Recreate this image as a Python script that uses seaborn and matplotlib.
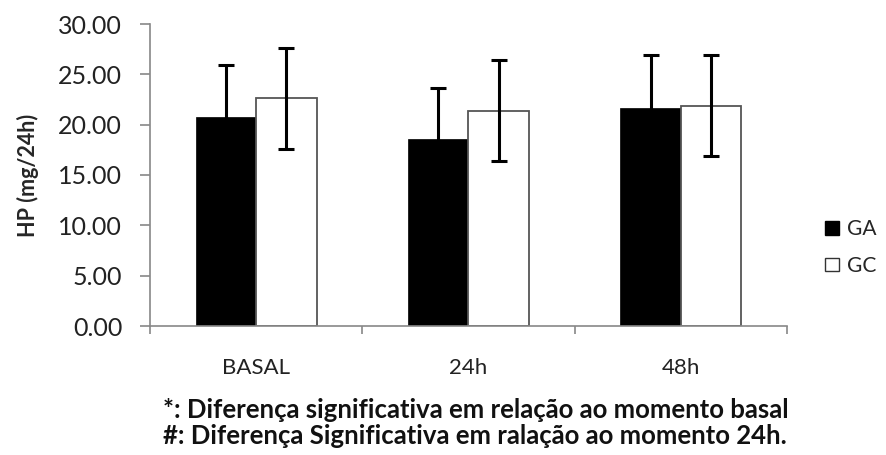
import matplotlib
matplotlib.use("Agg")
import matplotlib.pyplot as plt
import seaborn as sns
import pandas as pd
import numpy as np
from matplotlib.patches import Patch
from matplotlib.ticker import FixedLocator, FormatStrFormatter

categories = ["BASAL", "24h", "48h"]
groups = ["GA", "GC"]
ga_mean = [20.8, 18.6, 21.7]
ga_sd = [5.1, 5.0, 5.2]
gc_mean = [22.6, 21.4, 21.9]
gc_sd = [5.0, 5.0, 5.0]
y_label = "HP (mg/24h)"
footnote1 = "*: Diferença significativa em relação ao momento basal"
footnote2 = "#: Diferença Significativa em ralação ao momento 24h."

df = pd.DataFrame({
    "cat": categories * 2,
    "grp": ["GA"] * 3 + ["GC"] * 3,
    "val": ga_mean + gc_mean,
    "sd": ga_sd + gc_sd,
})

sns.set_style("white")
plt.rcParams["font.family"] = ["Lato", "DejaVu Sans"]

fig = plt.figure(figsize=(8.86, 4.55), dpi=100)
ax = fig.add_axes([150 / 886, 1 - 326 / 455, 637 / 886, 302 / 455])

palette = {"GA": "black", "GC": "white"}
sns.barplot(data=df, x="cat", y="val", hue="grp", order=categories,
            hue_order=groups, palette=palette, width=0.57, gap=0,
            errorbar=None, legend=False, ax=ax, saturation=1)

for i, p in enumerate(ax.patches[:6]):
    if i >= 3:
        p.set_edgecolor("#555555")
        p.set_linewidth(1.3)
    else:
        p.set_edgecolor("black")
        p.set_linewidth(0.5)

# error bars
for p, (_, row) in zip(ax.patches[:6], df.iterrows()):
    xc = p.get_x() + p.get_width() / 2
    ax.errorbar(xc, row["val"], yerr=row["sd"], fmt="none", ecolor="black",
                elinewidth=2.2, capsize=5.5, capthick=2.2, zorder=5)

ax.set_xlim(-0.5, 2.5)
ax.set_ylim(0, 30)
ax.yaxis.set_major_locator(FixedLocator([0, 5, 10, 15, 20, 25, 30]))
ax.yaxis.set_major_formatter(FormatStrFormatter("%.2f"))
ax.set_xlabel("")
ax.set_ylabel(y_label, fontsize=15.5, fontweight="bold", va="center")
ax.yaxis.set_label_coords((28 - 150) / 637, 0.5)

for s in ["top", "right"]:
    ax.spines[s].set_visible(False)
for s in ["left", "bottom"]:
    ax.spines[s].set_color("#888888")
    ax.spines[s].set_linewidth(1.2)

ax.tick_params(axis="y", which="major", direction="out", length=7,
               color="#888888", width=1.2, labelsize=18, pad=13,
               labelcolor="#222222", left=True)
ax.tick_params(axis="x", which="major", length=0, labelsize=16,
               pad=23, labelcolor="#222222")
ax.xaxis.set_minor_locator(FixedLocator([-0.5, 0.5, 1.5, 2.5]))
ax.tick_params(axis="x", which="minor", direction="out", length=6,
               color="#888888", width=1.2, bottom=True)

handles = [Patch(facecolor="black", edgecolor="black", label="GA"),
           Patch(facecolor="white", edgecolor="#333333", label="GC")]
ax.legend(handles=handles, loc="center left", bbox_to_anchor=(1.06, 0.26),
          frameon=False, fontsize=15, handlelength=0.65, handleheight=0.65,
          handletextpad=0.4, labelspacing=0.8, borderpad=0, borderaxespad=0)

fig.text(163 / 886, 1 - 410 / 455, footnote1, fontsize=18.5,
         fontweight="bold", ha="left", va="center", color="#111111")
fig.text(163 / 886, 1 - 436 / 455, footnote2, fontsize=18.5,
         fontweight="bold", ha="left", va="center", color="#111111")

fig.savefig("out.png", dpi=100)
